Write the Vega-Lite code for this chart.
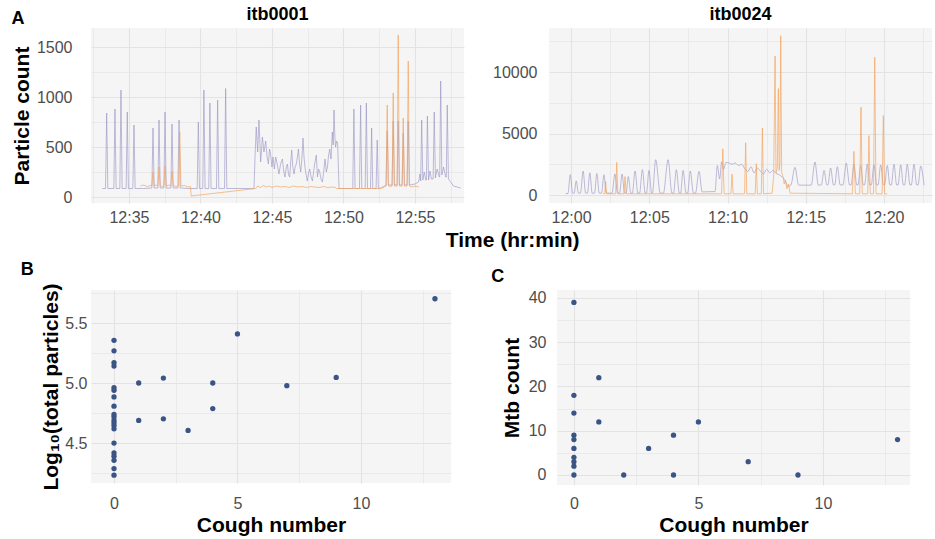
{
"$schema": "https://vega.github.io/schema/vega-lite/v6.json",
"padding": {"left": 11, "top": 6, "right": 2, "bottom": 1},
"datasets": {
"tl_p": [
{"m":33.13,"v":85},{"m":33.36,"v":85},{"m":33.44,"v":840},{"m":33.52,"v":85},{"m":33.94,"v":85},{"m":34.02,"v":880},{"m":34.10,"v":85},{"m":34.36,"v":85},{"m":34.44,"v":1070},{"m":34.52,"v":85},{"m":34.80,"v":85},{"m":34.88,"v":850},{"m":34.96,"v":85},{"m":35.27,"v":85},{"m":35.35,"v":720},{"m":35.43,"v":85},{"m":36.0,"v":85},
{"m":36.60,"v":90},{"m":36.68,"v":690},{"m":36.76,"v":90},{"m":37.02,"v":90},{"m":37.10,"v":770},{"m":37.18,"v":90},{"m":37.44,"v":90},{"m":37.52,"v":850},{"m":37.60,"v":90},{"m":37.93,"v":90},{"m":38.01,"v":730},{"m":38.09,"v":90},{"m":38.42,"v":90},{"m":38.50,"v":770},{"m":38.58,"v":90},{"m":39.2,"v":85},
{"m":39.77,"v":85},{"m":39.85,"v":750},{"m":39.93,"v":85},{"m":40.16,"v":85},{"m":40.24,"v":1070},{"m":40.32,"v":85},{"m":40.58,"v":85},{"m":40.66,"v":940},{"m":40.74,"v":85},{"m":41.12,"v":85},{"m":41.20,"v":970},{"m":41.28,"v":85},{"m":41.68,"v":85},{"m":41.76,"v":1085},{"m":41.84,"v":85},{"m":43.7,"v":85},
{"m":43.74,"v":85},{"m":43.81,"v":380},{"m":43.9,"v":700},{"m":44.0,"v":450},{"m":44.09,"v":770},{"m":44.21,"v":350},{"m":44.33,"v":600},{"m":44.44,"v":450},{"m":44.56,"v":560},{"m":44.66,"v":400},{"m":44.75,"v":330},{"m":44.83,"v":480},{"m":44.91,"v":420},{"m":45.0,"v":300},{"m":45.07,"v":400},{"m":45.17,"v":280},{"m":45.26,"v":400},{"m":45.38,"v":320},{"m":45.49,"v":230},{"m":45.6,"v":330},{"m":45.73,"v":380},{"m":45.82,"v":260},{"m":45.91,"v":200},{"m":46.0,"v":300},{"m":46.08,"v":330},{"m":46.16,"v":220},{"m":46.24,"v":200},{"m":46.31,"v":350},{"m":46.38,"v":470},{"m":46.46,"v":300},{"m":46.54,"v":230},{"m":46.62,"v":300},{"m":46.7,"v":330},{"m":46.78,"v":400},{"m":46.85,"v":480},{"m":46.93,"v":330},{"m":47.01,"v":250},{"m":47.09,"v":380},{"m":47.17,"v":590},{"m":47.24,"v":400},{"m":47.31,"v":300},{"m":47.39,"v":220},{"m":47.47,"v":160},{"m":47.56,"v":240},{"m":47.64,"v":280},{"m":47.74,"v":200},{"m":47.83,"v":160},{"m":47.92,"v":260},{"m":48.01,"v":350},{"m":48.1,"v":420},{"m":48.18,"v":200},{"m":48.26,"v":280},{"m":48.34,"v":250},{"m":48.43,"v":180},{"m":48.53,"v":150},{"m":48.62,"v":260},{"m":48.71,"v":380},{"m":48.8,"v":250},{"m":48.88,"v":300},{"m":48.96,"v":420},{"m":49.04,"v":480},{"m":49.13,"v":380},{"m":49.22,"v":650},{"m":49.28,"v":520},{"m":49.34,"v":870},{"m":49.4,"v":600},{"m":49.45,"v":500},{"m":49.52,"v":560},{"m":49.59,"v":540},{"m":49.69,"v":85},
{"m":50.6,"v":85},{"m":50.65,"v":85},{"m":50.73,"v":880},{"m":50.81,"v":85},{"m":51.12,"v":85},{"m":51.20,"v":920},{"m":51.28,"v":85},{"m":51.52,"v":85},{"m":51.60,"v":940},{"m":51.68,"v":85},{"m":51.89,"v":85},{"m":51.97,"v":690},{"m":52.05,"v":85},{"m":52.28,"v":85},{"m":52.36,"v":570},{"m":52.44,"v":85},{"m":52.8,"v":95},
{"m":52.98,"v":120},{"m":53.06,"v":660},{"m":53.14,"v":120},{"m":53.40,"v":120},{"m":53.48,"v":760},{"m":53.56,"v":120},{"m":53.75,"v":120},{"m":53.83,"v":760},{"m":53.91,"v":120},{"m":54.10,"v":120},{"m":54.18,"v":640},{"m":54.26,"v":120},{"m":54.45,"v":120},{"m":54.53,"v":760},{"m":54.61,"v":120},{"m":55.0,"v":130},{"m":55.25,"v":150},
{"m":55.35,"v":230},{"m":55.40,"v":160},{"m":55.47,"v":770},{"m":55.55,"v":170},{"m":55.65,"v":250},{"m":55.75,"v":170},{"m":55.80,"v":170},{"m":55.87,"v":810},{"m":55.95,"v":170},{"m":56.05,"v":260},{"m":56.15,"v":180},{"m":56.27,"v":180},{"m":56.35,"v":850},{"m":56.43,"v":190},{"m":56.55,"v":280},{"m":56.7,"v":200},{"m":56.73,"v":200},{"m":56.80,"v":1160},{"m":56.88,"v":220},{"m":57.0,"v":300},{"m":57.15,"v":200},{"m":57.19,"v":200},{"m":57.26,"v":920},{"m":57.34,"v":180},{"m":57.5,"v":150},{"m":57.7,"v":110},{"m":58.2,"v":90}
],
"tl_o": [
{"m":35.8,"v":110},{"m":36.0,"v":120},{"m":36.3,"v":105},{"m":36.5,"v":115},{"m":36.60,"v":110},{"m":36.68,"v":250},{"m":36.76,"v":110},{"m":36.9,"v":120},{"m":37.02,"v":110},{"m":37.10,"v":300},{"m":37.18,"v":115},{"m":37.3,"v":105},{"m":37.44,"v":115},{"m":37.52,"v":310},{"m":37.60,"v":110},{"m":37.8,"v":120},{"m":37.93,"v":110},{"m":38.01,"v":260},{"m":38.09,"v":115},{"m":38.3,"v":105},{"m":38.47,"v":115},{"m":38.55,"v":650},{"m":38.63,"v":110},{"m":38.9,"v":115},{"m":39.1,"v":100},{"m":39.3,"v":105},{"m":39.35,"v":10},
{"m":43.86,"v":85},{"m":44.0,"v":110},{"m":44.2,"v":95},{"m":44.4,"v":115},{"m":44.6,"v":100},{"m":44.8,"v":110},{"m":45.0,"v":95},{"m":45.3,"v":110},{"m":45.6,"v":100},{"m":45.9,"v":105},{"m":46.2,"v":95},{"m":46.5,"v":110},{"m":46.8,"v":100},{"m":47.1,"v":105},{"m":47.4,"v":95},{"m":47.7,"v":105},{"m":48.0,"v":100},{"m":48.3,"v":95},{"m":48.6,"v":105},{"m":48.9,"v":95},{"m":49.2,"v":100},{"m":49.45,"v":95},{"m":49.5,"v":85},{"m":52.6,"v":85},
{"m":52.7,"v":100},{"m":52.85,"v":110},{"m":52.98,"v":110},{"m":53.06,"v":920},{"m":53.14,"v":110},{"m":53.3,"v":105},{"m":53.40,"v":110},{"m":53.48,"v":1040},{"m":53.56,"v":110},{"m":53.75,"v":110},{"m":53.83,"v":1620},{"m":53.91,"v":110},{"m":54.10,"v":110},{"m":54.18,"v":790},{"m":54.26,"v":110},{"m":54.45,"v":110},{"m":54.53,"v":1360},{"m":54.61,"v":110},{"m":54.8,"v":100},{"m":55.0,"v":110},{"m":55.28,"v":100}
],
"tr_p": [
{"m":-0.34,"v":120},{"m":-0.2,"v":120},{"m":-0.05,"v":1650},{"m":0.1,"v":150},{"m":0.2,"v":150},{"m":0.33,"v":1150},{"m":0.47,"v":150},{"m":0.6,"v":150},{"m":0.77,"v":1950},{"m":0.93,"v":150},{"m":1.05,"v":150},{"m":1.2,"v":1800},{"m":1.35,"v":150},{"m":1.5,"v":150},{"m":1.65,"v":1750},{"m":1.8,"v":150},{"m":1.95,"v":150},{"m":2.1,"v":1650},{"m":2.25,"v":150},{"m":2.62,"v":150},{"m":2.8,"v":1700},{"m":2.97,"v":150},{"m":3.1,"v":150},{"m":3.26,"v":1700},{"m":3.42,"v":150},{"m":3.52,"v":150},{"m":3.66,"v":1500},{"m":3.82,"v":150},{"m":3.92,"v":150},{"m":4.09,"v":1950},{"m":4.27,"v":150},{"m":4.38,"v":150},{"m":4.56,"v":2060},{"m":4.74,"v":150},{"m":4.82,"v":150},{"m":4.98,"v":2000},{"m":5.15,"v":150},{"m":5.2,"v":150},{"m":5.41,"v":2870},{"m":5.7,"v":150},{"m":5.9,"v":150},{"m":6.2,"v":2870},{"m":6.45,"v":150},{"m":6.55,"v":150},{"m":6.73,"v":2060},{"m":6.92,"v":150},{"m":7.0,"v":150},{"m":7.16,"v":2000},{"m":7.35,"v":150},{"m":7.45,"v":150},{"m":7.62,"v":1950},{"m":7.82,"v":150},{"m":7.95,"v":150},{"m":8.18,"v":1925},{"m":8.38,"v":250},{"m":9.2,"v":280},
{"m":9.35,"v":2400},{"m":9.5,"v":1300},{"m":9.62,"v":2700},{"m":9.75,"v":2100},{"m":9.9,"v":2650},{"m":10.1,"v":2600},{"m":10.3,"v":2500},{"m":10.5,"v":2600},{"m":10.7,"v":2400},{"m":10.9,"v":2500},{"m":11.1,"v":2150},{"m":11.3,"v":1900},{"m":11.5,"v":2300},{"m":11.7,"v":1800},{"m":11.9,"v":2200},{"m":12.1,"v":1950},{"m":12.3,"v":1700},{"m":12.5,"v":2100},{"m":12.7,"v":1800},{"m":12.9,"v":2000},{"m":13.1,"v":1750},{"m":13.3,"v":1650},{"m":13.5,"v":1450},{"m":13.7,"v":1150},{"m":13.85,"v":700},{"m":14.05,"v":800},{"m":14.31,"v":2250},{"m":14.55,"v":800},
{"m":15.35,"v":800},{"m":15.59,"v":2680},{"m":15.8,"v":800},{"m":16.0,"v":820},{"m":16.17,"v":2000},{"m":16.35,"v":820},{"m":16.42,"v":820},{"m":16.59,"v":2200},{"m":16.77,"v":820},{"m":16.85,"v":820},{"m":17.02,"v":2300},{"m":17.2,"v":820},{"m":17.38,"v":820},{"m":17.59,"v":2600},{"m":17.8,"v":820},{"m":17.9,"v":820},{"m":18.08,"v":2500},{"m":18.26,"v":820},{"m":18.34,"v":820},{"m":18.51,"v":2400},{"m":18.68,"v":820},{"m":18.76,"v":820},{"m":18.93,"v":2500},{"m":19.1,"v":820},{"m":19.19,"v":820},{"m":19.36,"v":2450},{"m":19.53,"v":820},{"m":19.62,"v":820},{"m":19.79,"v":2450},{"m":19.96,"v":820},{"m":20.04,"v":820},{"m":20.21,"v":2400},{"m":20.38,"v":820},{"m":20.47,"v":820},{"m":20.64,"v":2500},{"m":20.81,"v":820},{"m":20.9,"v":820},{"m":21.07,"v":2450},{"m":21.24,"v":820},{"m":21.32,"v":820},{"m":21.49,"v":2500},{"m":21.66,"v":820},{"m":21.75,"v":820},{"m":21.92,"v":2500},{"m":22.09,"v":820},{"m":22.18,"v":820},{"m":22.35,"v":2350},{"m":22.56,"v":800}
],
"tr_o": [
{"m":2.05,"v":100},{"m":2.15,"v":100},{"m":2.21,"v":1100},{"m":2.27,"v":100},{"m":2.85,"v":100},{"m":2.92,"v":2650},{"m":2.99,"v":100},{"m":3.38,"v":100},{"m":3.45,"v":1500},{"m":3.52,"v":100},{"m":9.62,"v":100},{"m":9.7,"v":3750},{"m":9.78,"v":100},{"m":10.22,"v":100},{"m":10.29,"v":1700},{"m":10.36,"v":100},{"m":11.09,"v":100},{"m":11.16,"v":4250},{"m":11.23,"v":100},{"m":11.77,"v":100},{"m":11.84,"v":2550},{"m":11.91,"v":100},{"m":12.16,"v":100},{"m":12.23,"v":5450},{"m":12.3,"v":100},
{"m":12.85,"v":150},{"m":12.95,"v":1500},{"m":13.04,"v":11300},{"m":13.1,"v":1800},{"m":13.18,"v":2200},{"m":13.25,"v":8650},{"m":13.3,"v":2000},{"m":13.35,"v":2500},{"m":13.4,"v":12950},{"m":13.46,"v":1800},{"m":13.55,"v":1500},{"m":13.62,"v":900},{"m":13.7,"v":1200},{"m":13.8,"v":500},{"m":13.9,"v":900},{"m":14.0,"v":150},
{"m":17.98,"v":100},{"m":18.08,"v":3550},{"m":18.17,"v":100},{"m":18.45,"v":100},{"m":18.53,"v":7150},{"m":18.61,"v":100},{"m":18.96,"v":100},{"m":19.04,"v":4830},{"m":19.12,"v":100},{"m":19.33,"v":100},{"m":19.41,"v":11200},{"m":19.49,"v":100},{"m":19.88,"v":100},{"m":19.96,"v":6460},{"m":20.04,"v":100},{"m":20.21,"v":100}
],
"b": [
{"cough":0,"logp":5.356},{"cough":0,"logp":5.268},{"cough":0,"logp":5.169},{"cough":0,"logp":5.141},{"cough":0,"logp":4.961},{"cough":0,"logp":4.939},{"cough":0,"logp":4.884},{"cough":0,"logp":4.807},{"cough":0,"logp":4.738},{"cough":0,"logp":4.718},{"cough":0,"logp":4.691},{"cough":0,"logp":4.669},{"cough":0,"logp":4.646},{"cough":0,"logp":4.618},{"cough":0,"logp":4.5},{"cough":0,"logp":4.417},{"cough":0,"logp":4.39},{"cough":0,"logp":4.356},{"cough":0,"logp":4.287},{"cough":0,"logp":4.232},
{"cough":1,"logp":5.0},{"cough":1,"logp":4.688},{"cough":2,"logp":5.041},{"cough":2,"logp":4.702},{"cough":3,"logp":4.605},{"cough":4,"logp":5.0},{"cough":4,"logp":4.787},{"cough":5,"logp":5.409},{"cough":7,"logp":4.978},{"cough":9,"logp":5.047},{"cough":13,"logp":5.702}
],
"c": [
{"cough":0,"mtb":39},{"cough":0,"mtb":18},{"cough":0,"mtb":14},{"cough":0,"mtb":9},{"cough":0,"mtb":8},{"cough":0,"mtb":6},{"cough":0,"mtb":4},{"cough":0,"mtb":3},{"cough":0,"mtb":2},{"cough":0,"mtb":0},
{"cough":1,"mtb":22},{"cough":1,"mtb":12},{"cough":2,"mtb":0},{"cough":3,"mtb":6},{"cough":4,"mtb":9},{"cough":4,"mtb":0},{"cough":5,"mtb":12},{"cough":7,"mtb":3},{"cough":9,"mtb":0},{"cough":13,"mtb":8}
]
},
"config": {
"font": "Liberation Sans",
"view": {"fill": "#f5f5f5", "stroke": null},
"axis": {"domain": false, "ticks": false, "labelFontSize": 16, "labelColor": "#4d4d4d", "labelFont": "Liberation Sans", "titleFont": "Liberation Sans", "titleFontSize": 21, "titleFontWeight": "bold", "titleColor": "#000000", "gridColor": "#e3e3e3", "labelOverlap": false, "labelFlush": false, "labelBound": false},
"title": {"fontSize": 18, "fontWeight": "bold", "color": "#000000", "font": "Liberation Sans"}
},
"title": {"text": "A", "anchor": "start", "frame": "bounds", "offset": -22, "fontSize": 18},
"spacing": 9,
"vconcat": [
{
"title": {"text": "Time (hr:min)", "orient": "bottom", "anchor": "middle", "fontSize": 21, "offset": 5, "dx": 41},
"spacing": 28,
"hconcat": [
{
"width": 373, "height": 175,
"title": {"text": "itb0001", "fontSize": 18, "offset": 4},
"encoding": {
"x": {"field": "m", "type": "quantitative", "scale": {"domain": [32.343, 58.43], "nice": false, "zero": false},
"axis": {"title": null, "values": [32.5,35,37.5,40,42.5,45,47.5,50,52.5,55,57.5], "labelExpr": "datum.value % 5 == 0 ? '12:' + datum.value : ''", "labelPadding": 6,
"gridWidth": {"condition": {"test": "datum.value % 5 != 0", "value": 0.6}, "value": 1.1}}},
"y": {"field": "v", "type": "quantitative", "scale": {"domain": [-60, 1690], "nice": false, "zero": false},
"axis": {"title": "Particle count", "values": [0,250,500,750,1000,1250,1500], "labelExpr": "datum.value % 500 == 0 ? format(datum.value, 'd') : ''", "labelPadding": 19, "titlePadding": 4,
"gridWidth": {"condition": {"test": "datum.value % 500 != 0", "value": 0.6}, "value": 1.1}}}
},
"layer": [
{"data": {"name": "tl_p"}, "mark": {"type": "line", "color": "#9994c4", "strokeWidth": 0.9, "opacity": 0.7}},
{"data": {"name": "tl_o"}, "mark": {"type": "line", "color": "#f5a25c", "strokeWidth": 0.9, "opacity": 0.75}}
]
},
{
"width": 383, "height": 175,
"title": {"text": "itb0024", "fontSize": 18, "offset": 4},
"encoding": {
"x": {"field": "m", "type": "quantitative", "scale": {"domain": [-1.41, 23.07], "nice": false, "zero": false},
"axis": {"title": null, "values": [0,2.5,5,7.5,10,12.5,15,17.5,20,22.5], "labelExpr": "datum.value % 5 == 0 ? '12:' + (datum.value < 10 ? '0' : '') + datum.value : ''", "labelPadding": 6,
"gridWidth": {"condition": {"test": "datum.value % 5 != 0", "value": 0.6}, "value": 1.1}}},
"y": {"field": "v", "type": "quantitative", "scale": {"domain": [-650, 13580], "nice": false, "zero": false},
"axis": {"title": null, "values": [0,2500,5000,7500,10000,12500], "labelExpr": "datum.value % 5000 == 0 ? format(datum.value, 'd') : ''", "labelPadding": 12,
"gridWidth": {"condition": {"test": "datum.value % 5000 != 0", "value": 0.6}, "value": 1.1}}}
},
"layer": [
{"data": {"name": "tr_p"}, "mark": {"type": "line", "color": "#9994c4", "strokeWidth": 0.9, "opacity": 0.7, "interpolate": "monotone"}},
{"data": {"name": "tr_o"}, "mark": {"type": "line", "color": "#f5a25c", "strokeWidth": 0.9, "opacity": 0.75}}
]
}
]
},
{
"spacing": 40,
"hconcat": [
{
"width": 360, "height": 193,
"title": {"text": "B", "anchor": "start", "frame": "bounds", "fontSize": 18, "dx": -20, "offset": 4},
"data": {"name": "b"},
"mark": {"type": "circle", "size": 28, "color": "#3b5486", "opacity": 1},
"encoding": {
"x": {"field": "cough", "type": "quantitative", "scale": {"domain": [-0.932, 13.65], "nice": false, "zero": false},
"axis": {"title": "Cough number", "values": [0,2.5,5,7.5,10,12.5], "labelExpr": "datum.value % 5 == 0 ? '' + datum.value : ''", "labelPadding": 12, "titlePadding": 3,
"gridWidth": {"condition": {"test": "datum.value % 5 != 0", "value": 0.6}, "value": 1.1}}},
"y": {"field": "logp", "type": "quantitative", "scale": {"domain": [4.167, 5.775], "nice": false, "zero": false},
"axis": {"title": "Log₁₀(total particles)", "values": [4.25,4.5,4.75,5,5.25,5.5,5.75], "labelExpr": "(datum.value * 4) % 2 == 0 ? format(datum.value, '.1f') : ''", "labelPadding": 4, "titlePadding": 3,
"gridWidth": {"condition": {"test": "(datum.value * 4) % 2 != 0", "value": 0.6}, "value": 1.1}}}
}
},
{
"width": 353, "height": 195,
"title": {"text": "C", "anchor": "start", "frame": "bounds", "fontSize": 18, "dx": -10, "offset": 4},
"data": {"name": "c"},
"mark": {"type": "circle", "size": 28, "color": "#3b5486", "opacity": 1},
"encoding": {
"x": {"field": "cough", "type": "quantitative", "scale": {"domain": [-0.68, 13.5], "nice": false, "zero": false},
"axis": {"title": "Cough number", "values": [0,2.5,5,7.5,10,12.5], "labelExpr": "datum.value % 5 == 0 ? '' + datum.value : ''", "labelPadding": 10, "titlePadding": 3,
"gridWidth": {"condition": {"test": "datum.value % 5 != 0", "value": 0.6}, "value": 1.1}}},
"y": {"field": "mtb", "type": "quantitative", "scale": {"domain": [-2.26, 41.8], "nice": false, "zero": false},
"axis": {"title": "Mtb count", "values": [0,5,10,15,20,25,30,35,40], "labelExpr": "datum.value % 10 == 0 ? '' + datum.value : ''", "labelPadding": 11, "titlePadding": 6,
"gridWidth": {"condition": {"test": "datum.value % 10 != 0", "value": 0.6}, "value": 1.1}}}
}
}
]
}
]
}
